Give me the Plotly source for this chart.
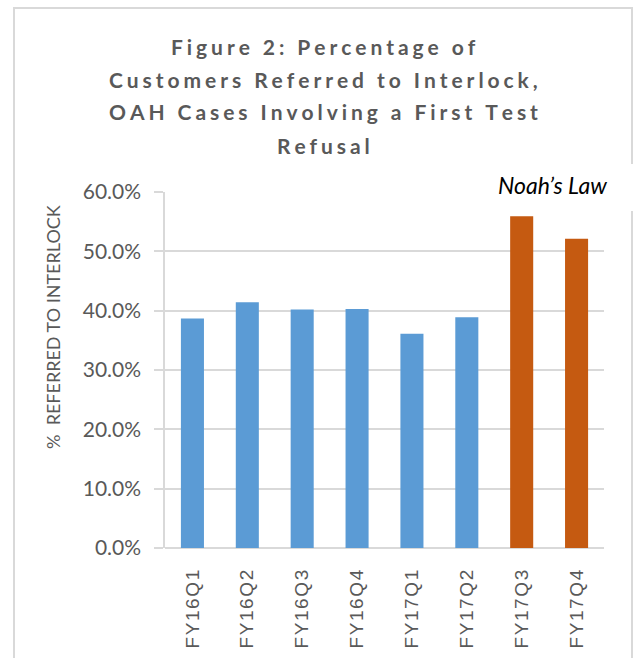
import plotly.graph_objects as go

# ---- data ----
categories = ["FY16Q1", "FY16Q2", "FY16Q3", "FY16Q4", "FY17Q1", "FY17Q2", "FY17Q3", "FY17Q4"]
values = [38.7, 41.4, 40.2, 40.3, 36.1, 38.9, 55.9, 52.1]
bar_colors = ["#5B9BD5"] * 6 + ["#C55A11"] * 2
y_tickvals = [0, 10, 20, 30, 40, 50, 60]
y_ticktext = [f"{v:.1f}%" for v in y_tickvals]

title_lines = [
    "Figure 2: Percentage of",
    "Customers Referred to Interlock,",
    "OAH Cases Involving a First Test",
    "Refusal",
]
y_title = "%  REFERRED TO INTERLOCK"
note_text = "Noah\u2019s Law"

# ---- layout geometry (pixels) ----
W, H = 634, 658
L, R, T, B = 165, 30, 192, 110
PW, PH = W - L - R, H - T - B


def px_x(px):
    return (px - L) / PW


def px_y(py):
    return (H - B - py) / PH


def spaced(s, sep="\u200a"):
    return sep.join(s)


GRAY = "#595959"
LINE = "#D9D9D9"

fig = go.Figure()
fig.add_trace(
    go.Bar(
        x=categories,
        y=values,
        marker=dict(color=bar_colors, line=dict(width=0)),
        hoverinfo="x+y",
    )
)

fig.update_layout(
    width=W,
    height=H,
    margin=dict(l=L, r=R, t=T, b=B, autoexpand=False),
    paper_bgcolor="white",
    plot_bgcolor="white",
    showlegend=False,
    bargap=0.58,
    font=dict(family="Lato", color=GRAY),
    xaxis=dict(
        tickmode="array",
        tickvals=categories,
        ticktext=[spaced(c) for c in categories],
        tickangle=-90,
        tickfont=dict(family="Liberation Sans", size=19, color=GRAY),
        showgrid=False,
        showline=False,
        ticks="",
        ticklabelstandoff=17,
        fixedrange=True,
    ),
    yaxis=dict(
        range=[0, 60],
        tickmode="array",
        tickvals=y_tickvals,
        ticktext=y_ticktext,
        tickfont=dict(family="Lato", size=21, color=GRAY),
        showgrid=True,
        gridcolor=LINE,
        gridwidth=1.5,
        zeroline=True,
        zerolinecolor=LINE,
        zerolinewidth=1.5,
        showline=True,
        linecolor=LINE,
        linewidth=1.5,
        ticks="outside",
        ticklen=9,
        tickcolor=LINE,
        tickwidth=1.5,
        ticklabelstandoff=9,
        fixedrange=True,
    ),
)

# chart title, one annotation per line (for Excel-like line spacing)
title_centers = [46, 79, 112, 145]
for line, cy in zip(title_lines, title_centers):
    fig.add_annotation(
        text="<b>" + spaced(line, "\u2009\u200a") + "</b>",
        xref="paper",
        yref="paper",
        x=px_x(323),
        y=px_y(cy),
        showarrow=False,
        xanchor="center",
        yanchor="middle",
        font=dict(family="Lato", size=21, color=GRAY),
    )

# y-axis title as rotated annotation
fig.add_annotation(
    text=y_title,
    xref="paper",
    yref="paper",
    x=px_x(53),
    y=px_y(327),
    textangle=-90,
    showarrow=False,
    xanchor="center",
    yanchor="middle",
    font=dict(family="Lato", size=18, color=GRAY),
)

# chart border
fig.add_shape(
    type="rect",
    xref="paper",
    yref="paper",
    x0=px_x(14),
    x1=px_x(632),
    y0=px_y(680),
    y1=px_y(8),
    line=dict(color=LINE, width=2),
    fillcolor="rgba(0,0,0,0)",
    layer="below",
)

# text box covering the border
fig.add_shape(
    type="rect",
    xref="paper",
    yref="paper",
    x0=px_x(490),
    x1=px_x(640),
    y0=px_y(211),
    y1=px_y(164),
    line=dict(width=0),
    fillcolor="white",
    layer="above",
)
fig.add_annotation(
    text="<i>" + note_text + "</i>",
    xref="paper",
    yref="paper",
    x=px_x(552),
    y=px_y(185),
    showarrow=False,
    xanchor="center",
    yanchor="middle",
    font=dict(family="Lato", size=23, color="black"),
)

fig.write_html(
    "out.html",
    config={"displayModeBar": False},
    post_script="document.body.style.margin='0';document.body.style.overflow='hidden';",
)
